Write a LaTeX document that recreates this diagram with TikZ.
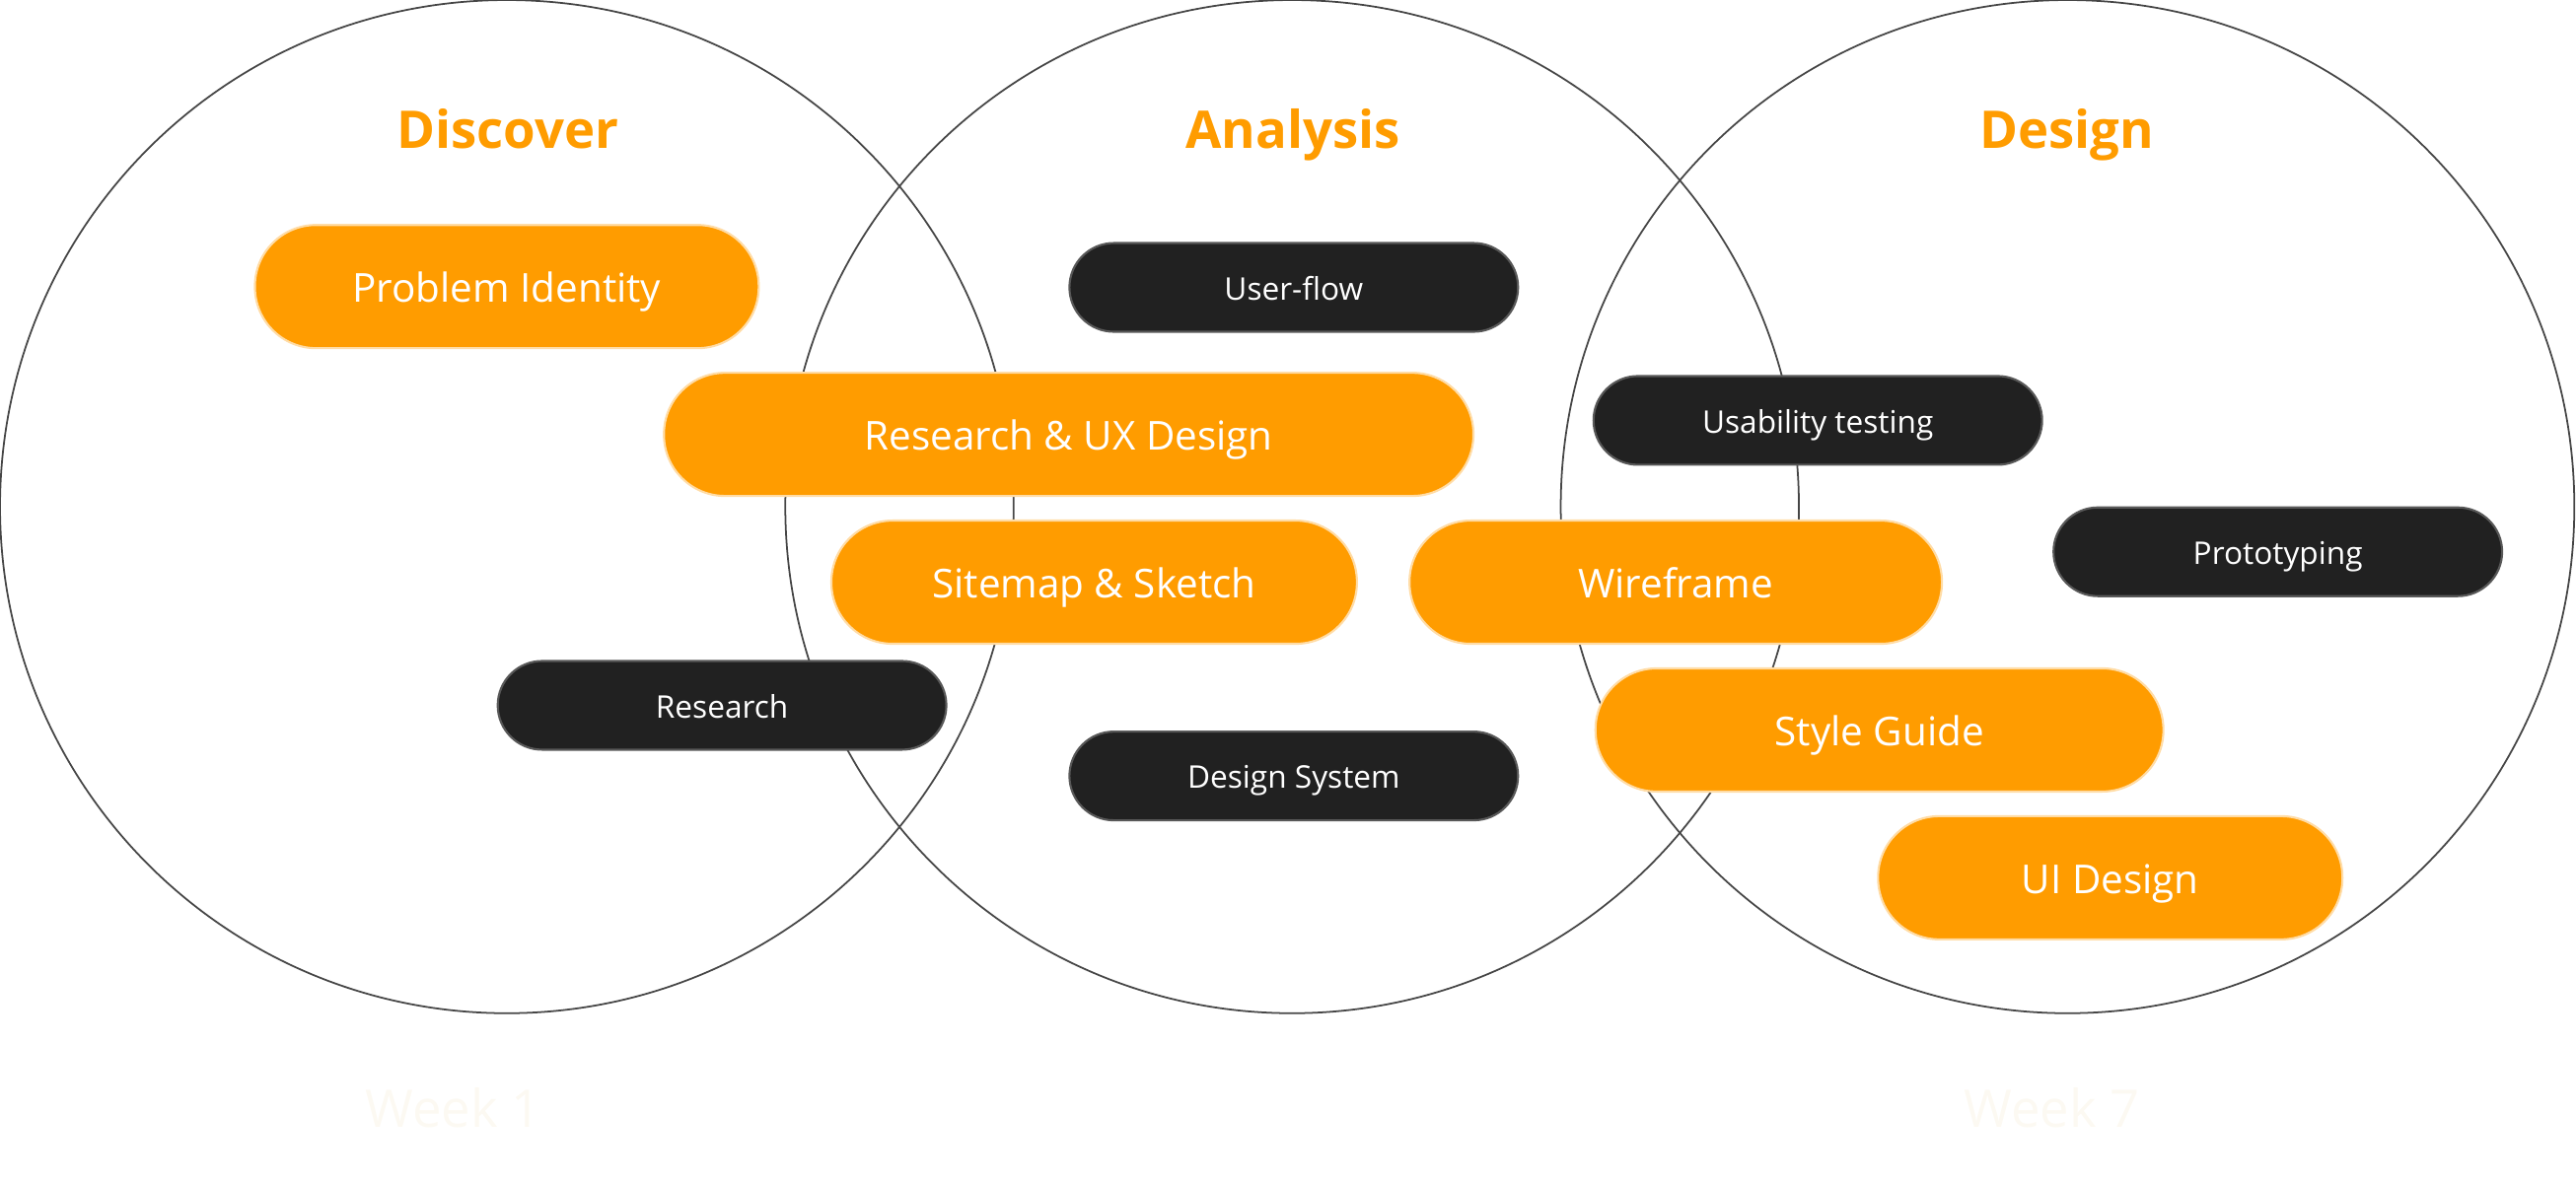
\documentclass[tikz,border=0pt]{standalone}
\usepackage{fontspec}
\setmainfont{Open Sans}
\usepackage{xcolor}
\definecolor{Orange}{RGB}{255,156,0}
\definecolor{Dark}{RGB}{33,33,33}
\definecolor{Ring}{RGB}{70,70,70}
\definecolor{Faint}{RGB}{252,249,242}
\usetikzlibrary{shapes}
\tikzstyle{phase} = [circle, draw=Ring, line width=0.5pt, minimum size=10.28cm, inner sep=0pt]
\tikzstyle{phasename} = [text=Orange, text height=1em, text depth=0pt,
    font=\fontsize{15}{18}\selectfont\bfseries]
\tikzstyle{task} = [rectangle, fill=Orange, draw=Orange!35!white, line width=0.6pt, text=white,
    rounded corners=0.62cm, minimum height=1.25cm, text height=0.9em, text depth=0pt,
    font=\fontsize{11.5}{14}\selectfont]
\tikzstyle{tool} = [rectangle, fill=Dark, draw=Dark!75!white, line width=0.6pt, text=white,
    rounded corners=0.45cm, minimum height=0.9cm, minimum width=4.55cm, text height=0.72em,
    text depth=0pt, font=\fontsize{9}{11}\selectfont]
\tikzstyle{week} = [text=Faint, text height=1em, text depth=0pt, font=\fontsize{15}{18}\selectfont]

\begin{document}
\begin{tikzpicture}[x=0.016658cm, y=-0.016658cm]
  \useasboundingbox (0,0) rectangle (1568,720);
  % the three phases
  \node [phase] (DiscoverRing) at (308.5,308.5) {};
  \node [phase] (AnalysisRing) at (786.5,308.5) {};
  \node [phase] (DesignRing) at (1258.5,308.5) {};
  \node [phasename] (Discover) at (309,80) {Discover};
  \node [phasename] (Analysis) at (787,80) {Analysis};
  \node [phasename] (Design) at (1258,80) {Design};
  %
  \node [task, minimum width=5.11cm] (Problem) at (308.5,174.5) {Problem Identity};
  \node [task, minimum width=8.21cm] (ResearchUX) at (650.5,264.5) {Research \& UX Design};
  \node [task, minimum width=5.33cm] (Sitemap) at (666,354.5) {Sitemap \& Sketch};
  \node [task, minimum width=5.40cm] (Wireframe) at (1020,354.5) {Wireframe};
  \node [task, minimum width=5.76cm] (StyleGuide) at (1144,444.5) {Style Guide};
  \node [task, minimum width=4.71cm] (UIDesign) at (1284.5,534.5) {UI Design};
  %
  \node [tool] (UserFlow) at (787.5,175) {User-flow};
  \node [tool] (Usability) at (1106.5,256) {Usability testing};
  \node [tool] (Prototyping) at (1386.5,336) {Prototyping};
  \node [tool] (Research) at (439.5,429.5) {Research};
  \node [tool] (DesignSystem) at (787.5,472.5) {Design System};
  %
  \node [week] (WeekOne) at (276,676) {Week 1};
  \node [week] (WeekSeven) at (1249,676) {Week 7};
\end{tikzpicture}
\end{document}
